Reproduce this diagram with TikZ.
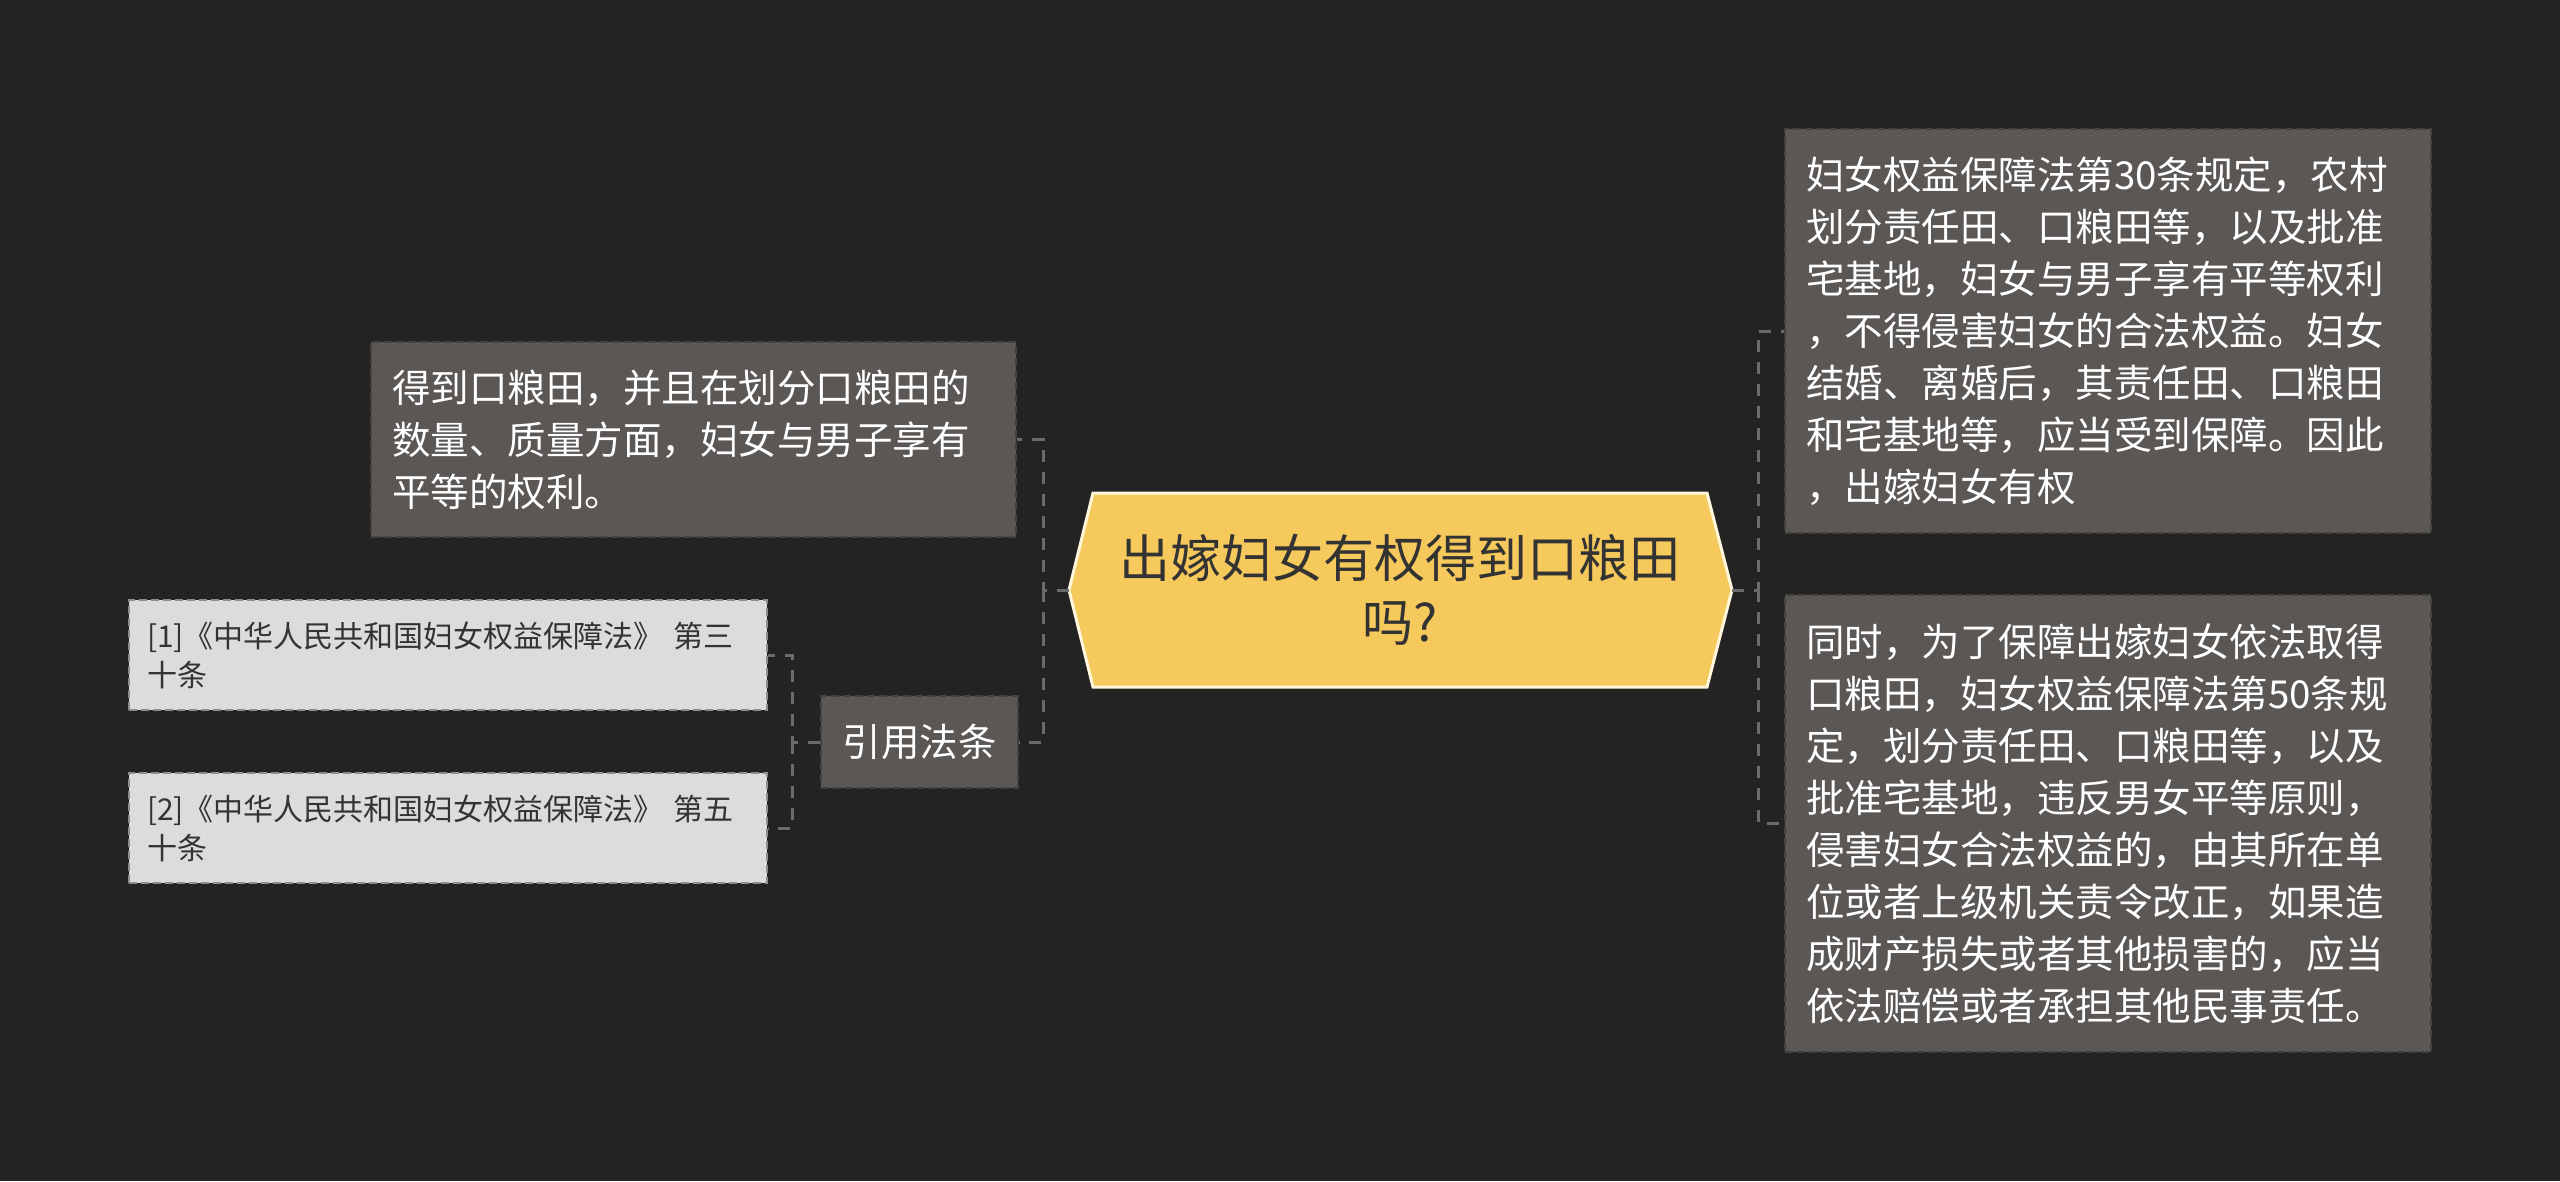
\documentclass[tikz,border=0pt]{standalone}
\usepackage{fontspec}
\setmainfont{Noto Sans CJK SC}
\definecolor{bg}{HTML}{232323}
\definecolor{boxgray}{HTML}{5A5755}
\definecolor{boxedge}{HTML}{44423F}
\definecolor{lightbox}{HTML}{DCDCDA}
\definecolor{lightedge}{HTML}{8E8D8B}
\definecolor{hexfill}{HTML}{F5C95B}
\definecolor{hexedge}{HTML}{FFF6DC}
\definecolor{darktext}{HTML}{333333}
\definecolor{conncol}{HTML}{6B6B6B}
\tikzset{
  graybox/.style={fill=boxgray, draw=boxedge, line width=1.5pt, dash pattern=on 8pt off 4pt,
    text=white, align=left, inner xsep=21pt, inner ysep=0pt,
    font=\fontsize{38.5}{52}\selectfont},
  litebox/.style={fill=lightbox, draw=lightedge, line width=1.5pt, dash pattern=on 8pt off 4pt,
    text=darktext, align=left, inner xsep=18pt, inner ysep=0pt,
    font=\fontsize{30}{39}\selectfont},
  conn/.style={draw=conncol, line width=3pt, dash pattern=on 12pt off 10pt},
}
\begin{document}
\begin{tikzpicture}[x=1pt, y=-1pt]
\useasboundingbox (0,0) rectangle (2560,1181);
\fill[bg] (0,0) rectangle (2560,1181);

% central hexagon
\coordinate (cL) at (1069,590);
\coordinate (cR) at (1732,590);
\fill[hexfill, draw=hexedge, line width=3pt, line join=miter]
  (cL) -- (1093,493) -- (1707,493) -- (cR) -- (1707,687) -- (1093,687) -- cycle;
\node[text=darktext, align=center, font=\fontsize{51}{64}\selectfont] (c) at (1400,590)
  {出嫁妇女有权得到口粮田\\吗?};

% left branch
\node[graybox, text width=603pt, minimum height=195pt] (lt) at (693.5,439.5)
  {得到口粮田，并且在划分口粮田的\\数量、质量方面，妇女与男子享有\\平等的权利。};
\node[graybox, align=center, inner xsep=0pt, text width=197pt, minimum height=92pt] (cite) at (919.5,742)
  {引用法条};
\node[litebox, text width=602pt, minimum height=110pt] (r1) at (448,655)
  {[1]《中华人民共和国妇女权益保障法》 第三\\十条};
\node[litebox, text width=602pt, minimum height=110pt] (r2) at (448,828)
  {[2]《中华人民共和国妇女权益保障法》 第五\\十条};

% right branch
\node[graybox, text width=604pt, minimum height=404pt] (rt) at (2108,331)
  {妇女权益保障法第30条规定，农村\\划分责任田、口粮田等，以及批准\\宅基地，妇女与男子享有平等权利\\，不得侵害妇女的合法权益。妇女\\结婚、离婚后，其责任田、口粮田\\和宅基地等，应当受到保障。因此\\，出嫁妇女有权};
\node[graybox, text width=604pt, minimum height=457pt] (rb) at (2108,823.5)
  {同时，为了保障出嫁妇女依法取得\\口粮田，妇女权益保障法第50条规\\定，划分责任田、口粮田等，以及\\批准宅基地，违反男女平等原则，\\侵害妇女合法权益的，由其所在单\\位或者上级机关责令改正，如果造\\成财产损失或者其他损害的，应当\\依法赔偿或者承担其他民事责任。};

% connectors
\coordinate (jl) at (1043,590);
\coordinate (jr) at (1758,590);
\coordinate (jc) at (792,742);
\draw[conn] (cL) -- (jl) |- (lt.east);
\draw[conn] (jl) |- (cite.east);
\draw[conn] (cR) -- (jr) |- (rt.west);
\draw[conn] (jr) |- (rb.west);
\draw[conn] (cite.west) -- (jc) |- (r1.east);
\draw[conn] (jc) |- (r2.east);
\end{tikzpicture}
\end{document}
